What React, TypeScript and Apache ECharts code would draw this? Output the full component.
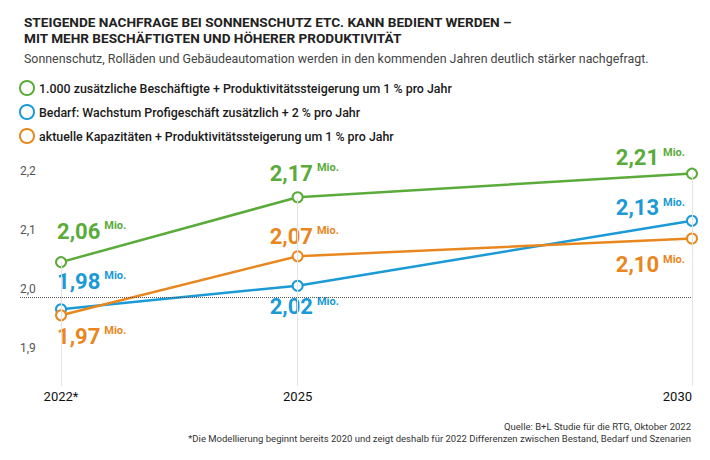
import React, { useEffect, useRef } from "react";
import * as echarts from "echarts";

const years = [2022, 2025, 2030];
const xTickLabels = ["2022*", "2025", "2030"];
const yTicks = [1.9, 2.0, 2.1, 2.2];
const seriesNames = [
  "1.000 zusätzliche Beschäftigte + Produktivitätssteigerung um 1 % pro Jahr",
  "Bedarf: Wachstum Profigeschäft zusätzlich + 2 % pro Jahr",
  "aktuelle Kapazitäten + Produktivitätssteigerung um 1 % pro Jahr",
];
const greenValues = [2.06, 2.17, 2.21];
const blueValues = [1.98, 2.02, 2.13];
const orangeValues = [1.97, 2.07, 2.1];
const unit = "Mio.";

const titleText =
  "STEIGENDE NACHFRAGE BEI SONNENSCHUTZ ETC. KANN BEDIENT WERDEN –\nMIT MEHR BESCHÄFTIGTEN UND HÖHERER PRODUKTIVITÄT";
const subtitleText =
  "Sonnenschutz, Rolläden und Gebäudeautomation werden in den kommenden Jahren deutlich stärker nachgefragt.";
const footerLines = [
  "Quelle: B+L Studie für die RTG, Oktober 2022",
  "*Die Modellierung beginnt bereits 2020 und zeigt deshalb für 2022 Differenzen zwischen Bestand, Bedarf und Szenarien",
];

const GREEN = "#5aab3a";
const BLUE = "#1b9ad6";
const ORANGE = "#e8871e";
const FONT = "Roboto, 'Noto Sans', sans-serif";

// label placement per point: [align, dx, dy]
const greenPlace: [string, number, number][] = [
  ["left", -4, -31],
  ["left", -28, -24],
  ["right", -7, -16],
];
const bluePlace: [string, number, number][] = [
  ["left", -4, -28],
  ["left", -28, 21],
  ["right", -7, -13],
];
const orangePlace: [string, number, number][] = [
  ["left", -4, 21],
  ["left", -28, -20],
  ["right", -7, 26],
];

const fmt = (v: number, d: number) => v.toFixed(d).replace(".", ",");

function buildData(values: number[], place: [string, number, number][], color: string) {
  return values.map((v, i) => ({
    value: [years[i], v],
    label: {
      show: true,
      position: "inside",
      align: place[i][0],
      verticalAlign: "middle",
      offset: [place[i][1], place[i][2]],
      formatter: `{v|${fmt(v, 2)}}{u|${unit}}`,
      rich: {
        v: {
          fontSize: 22,
          fontWeight: "bold",
          color,
          fontFamily: FONT,
          lineHeight: 22,
        },
        u: {
          fontSize: 11,
          fontWeight: "bold",
          color,
          fontFamily: FONT,
          lineHeight: 11,
          padding: [0, 0, 11, 4],
        },
      },
    },
  }));
}

function lineSeries(name: string, values: number[], place: [string, number, number][], color: string) {
  return {
    name,
    type: "line",
    z: 3,
    data: buildData(values, place, color),
    symbol: "emptyCircle",
    symbolSize: 10,
    showAllSymbol: true,
    lineStyle: { color, width: 2.5 },
    itemStyle: { color, borderColor: color, borderWidth: 2 },
    emphasis: { disabled: true },
  };
}

export default function App() {
  const ref = useRef<HTMLDivElement>(null);
  useEffect(() => {
    if (!ref.current) return;
    const chart = echarts.init(ref.current, null, { renderer: "svg" });
    const yMin = 1.85;
    const topValues = years.map((_, i) =>
      Math.max(greenValues[i], blueValues[i], orangeValues[i])
    );
    chart.setOption({
      animation: false,
      backgroundColor: "#ffffff",
      title: {
        text: titleText,
        subtext: subtitleText,
        left: 19,
        top: 9,
        itemGap: 5,
        textStyle: {
          fontFamily: FONT,
          fontSize: 13.6,
          fontWeight: "bold",
          color: "#222",
          lineHeight: 16,
        },
        subtextStyle: {
          fontFamily: FONT,
          fontSize: 12.4,
          color: "#444",
          lineHeight: 14,
        },
      },
      legend: {
        orient: "vertical",
        left: 14,
        top: 75,
        itemGap: 8,
        itemWidth: 14,
        itemHeight: 14,
        icon: "circle",
        selectedMode: false,
        data: seriesNames,
        itemStyle: { color: "#ffffff", borderWidth: 2 },
        textStyle: {
          fontFamily: FONT,
          fontSize: 12.4,
          fontWeight: 500,
          color: "#1a1a1a",
          lineHeight: 14,
        },
      },
      grid: { left: 20, right: 18, top: 150, bottom: 74 },
      xAxis: {
        type: "value",
        min: 2021.48,
        max: 2030,
        axisLine: { show: false },
        axisTick: { show: false },
        splitLine: { show: false },
        axisLabel: {
          customValues: years,
          formatter: (v: number) => xTickLabels[years.indexOf(v)] ?? "",
          alignMaxLabel: "right",
          margin: 4,
          fontFamily: FONT,
          fontSize: 13,
          color: "#111",
        },
      },
      yAxis: {
        type: "value",
        min: yMin,
        max: 2.25,
        axisLine: { show: false },
        axisTick: { show: false },
        splitLine: { show: false },
        axisLabel: {
          customValues: yTicks,
          inside: true,
          margin: 0,
          verticalAlign: "bottom",
          padding: [0, 0, 3, 0],
          formatter: (v: number) => fmt(v, 1),
          fontFamily: FONT,
          fontSize: 12,
          color: "#555",
        },
      },
      series: [
        {
          name: "guides",
          type: "line",
          z: 1,
          data: [],
          silent: true,
          markLine: {
            silent: true,
            symbol: ["none", "none"],
            label: { show: false },
            data: [
              ...years.map((yr, i) => [
                { coord: [yr, topValues[i]], lineStyle: { color: "#e4e4e4", width: 1, type: "solid" } },
                { coord: [yr, yMin] },
              ]),
              { yAxis: 2.0, lineStyle: { color: "#555", width: 1, type: "dotted" } },
            ],
          },
        },
        lineSeries(seriesNames[0], greenValues, greenPlace, GREEN),
        lineSeries(seriesNames[1], blueValues, bluePlace, BLUE),
        lineSeries(seriesNames[2], orangeValues, orangePlace, ORANGE),
      ],
      graphic: footerLines.map((t, i) => ({
        type: "text",
        right: 19,
        top: 421 + i * 12,
        style: {
          text: t,
          fontFamily: FONT,
          fontSize: 9.5,
          fill: "#333",
        },
      })),
    });
    return () => chart.dispose();
  }, []);
  return (
    <div
      ref={ref}
      style={{ position: "fixed", left: 0, top: 0, width: 710, height: 460 }}
    />
  );
}
